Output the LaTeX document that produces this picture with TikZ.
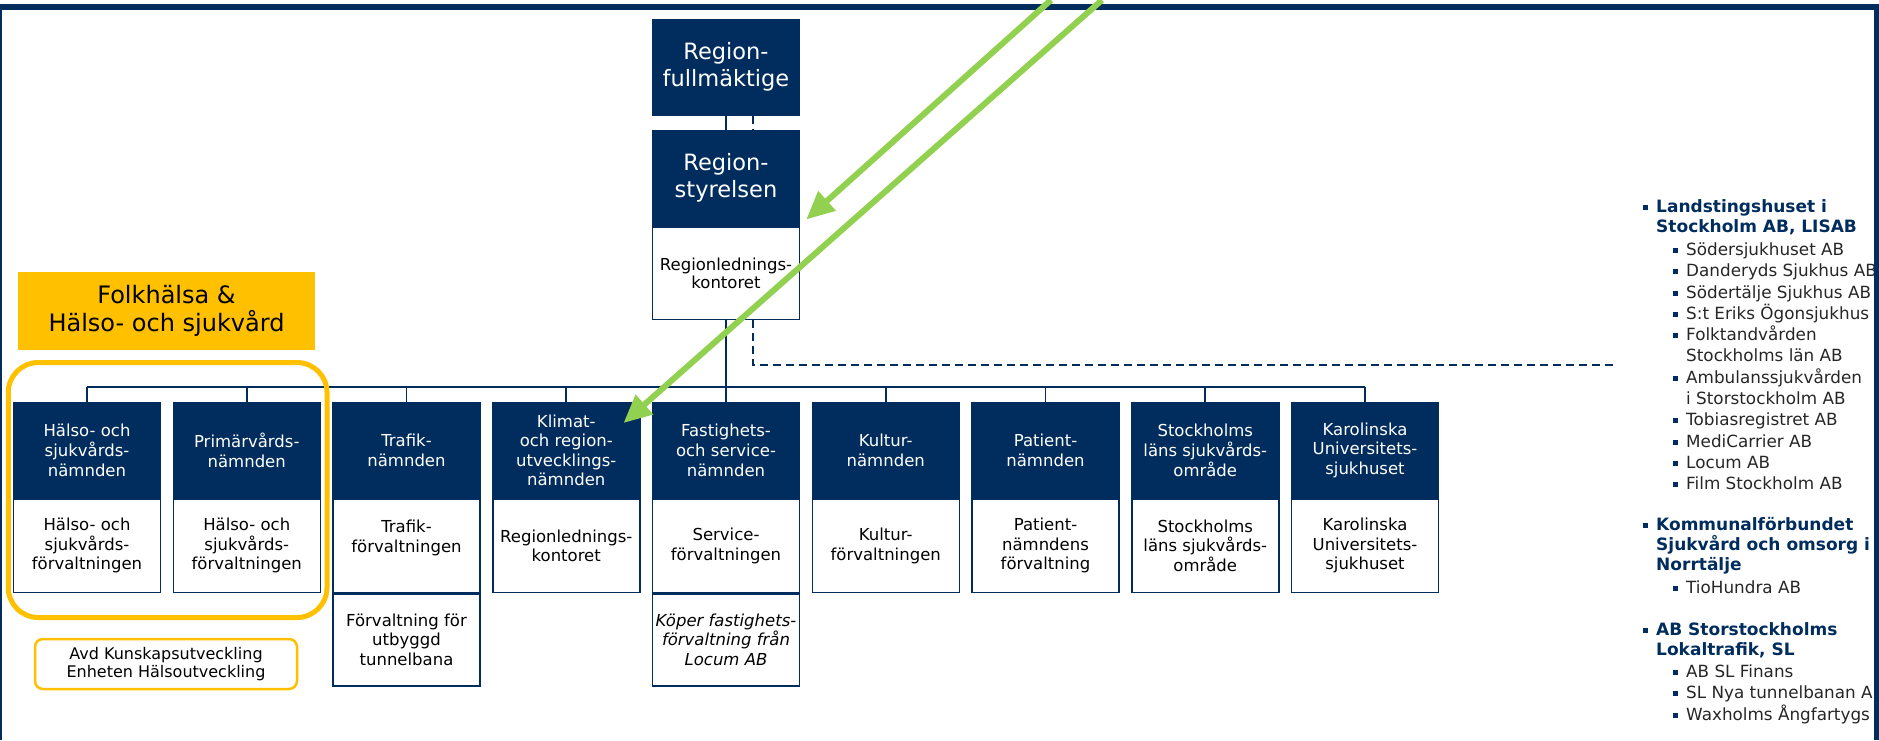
\documentclass[tikz,border=0pt]{standalone}
\usepackage{fontspec}
\setmainfont{DejaVu Sans}
\usepackage{tikz}
\usetikzlibrary{arrows.meta}
\usetikzlibrary{positioning}
\definecolor{navy}{RGB}{0,45,93}
\definecolor{sllgreen}{RGB}{146,208,80}
\definecolor{sllyellow}{RGB}{255,192,0}
\tikzset{
    orgbox/.style={draw=navy, line width=1.5pt, minimum width=147pt, inner sep=0pt, align=center},
    bighead/.style={orgbox, fill=navy, text=white, minimum height=95pt, font=\fontsize{22.5}{27}\selectfont},
    head/.style={orgbox, fill=navy, text=white, minimum height=95pt, font=\fontsize{16.5}{19.6}\selectfont},
    body/.style={orgbox, fill=white, text=black, minimum height=93pt, font=\fontsize{16.5}{19.6}\selectfont},
    conn/.style={draw=navy, line width=1.6pt},
    dashconn/.style={draw=navy, line width=1.8pt, dash pattern=on 8pt off 5pt},
    greenarrow/.style={draw=sllgreen, line width=6pt, -{Triangle[length=28pt,width=25pt]}},
    areabox/.style={fill=sllyellow, minimum width=297pt, minimum height=78pt, inner sep=0pt, align=center, font=\fontsize{24}{28.3}\selectfont},
    unitbox/.style={draw=sllyellow, line width=2.5pt, rounded corners=8pt, fill=white, minimum width=262pt, minimum height=50pt, inner sep=0pt, align=center, font=\fontsize{16}{18.3}\selectfont},
    ring/.style={draw=sllyellow, line width=5pt, rounded corners=30pt},
    bolaghead/.style={anchor=base west, inner sep=0pt, text=navy, font=\fontsize{17}{20}\selectfont\bfseries},
    bolagitem/.style={anchor=base west, inner sep=0pt, text=black!85, font=\fontsize{16.8}{21}\selectfont}
}
\newcommand{\sqb}{\makebox[13pt][l]{\textcolor{navy}{\rule[2.5pt]{4.5pt}{4.5pt}}}}
\newcommand{\nob}{\hspace*{13pt}}

\begin{document}
\begin{tikzpicture}[x=1pt,y=-1pt]
    \useasboundingbox (0,0) rectangle (1879,740);
    \clip (0,0) rectangle (1879,740);
    % top of the organisation
    \node[bighead, anchor=north] at (726,19) (rf) {Region-\\fullmäktige};
    \node[bighead, anchor=north] at (726,130) (rsh) {Region-\\styrelsen};
    \node[body, minimum height=92pt, font=\fontsize{16.5}{18.3}\selectfont, below=0pt of rsh] (rsb) {Regionlednings-\\kontoret};
    % boards and their administrations
    \foreach \hd/\bd [count=\i from 0] in {
        {Hälso- och\\sjukvårds-\\nämnden}/{Hälso- och\\sjukvårds-\\förvaltningen},
        {Primärvårds-\\nämnden}/{Hälso- och\\sjukvårds-\\förvaltningen},
        {Trafik-\\nämnden}/{Trafik-\\förvaltningen\\\mbox{}},
        {Klimat-\\och region-\\utvecklings-\\nämnden}/{Regionlednings-\\kontoret},
        {Fastighets-\\och service-\\nämnden}/{Service-\\förvaltningen},
        {Kultur-\\nämnden}/{Kultur-\\förvaltningen},
        {Patient-\\nämnden}/{Patient-\\nämndens\\förvaltning},
        {Stockholms\\läns sjukvårds-\\område}/{Stockholms\\läns sjukvårds-\\område},
        {Karolinska\\Universitets-\\sjukhuset}/{Karolinska\\Universitets-\\sjukhuset}}{
        \node[head, anchor=north] at (87+159.75*\i,402) (h\i) {\hd};
        \node[body, below=0pt of h\i] (b\i) {\bd};
    }
    \node[body, minimum height=92pt, below=0pt of b2] (b2x) {Förvaltning för\\utbyggd\\tunnelbana};
    \node[body, minimum height=92pt, below=0pt of b4] (b4x) {\textit{Köper fastighets-}\\\textit{förvaltning från}\\\textit{Locum AB}};
    % connectors
    \coordinate (bus) at (0,387);
    \coordinate (dashend) at (1617,365);
    \draw[conn] (rf.south) -- (rsh.north);
    \draw[dashconn] ([xshift=27pt]rf.south) -- ([xshift=27pt]rsh.north);
    \draw[conn] (rsb.south) -- (rsb.south |- bus);
    \draw[dashconn] ([xshift=27pt]rsb.south) |- (dashend);
    \draw[conn] (h0.north |- bus) -- (h8.north |- bus);
    \foreach \i in {0,...,8}
        \draw[conn] (h\i.north) -- (h\i.north |- bus);
    % public health area
    \node[areabox] at (166.5,311) (folk) {Folkhälsa \&\\Hälso- och sjukvård};
    \draw[ring] ([shift={(-4.5,-39.5)}]h0.north west) rectangle ([shift={(6,24.5)}]b1.south east);
    \node[unitbox] at (166,664) (avd) {Avd Kunskapsutveckling\\Enheten Hälsoutveckling};
    % companies
    \begin{scope}
        \clip (1600,150) rectangle (1873,740);
        \foreach \yy/\txt [count=\k] in {212/{\sqb Landstingshuset i}, 232/{\nob Stockholm AB, LISAB},
            530/{\sqb Kommunalförbundet}, 550/{\nob Sjukvård och omsorg i}, 570/{\nob Norrtälje},
            635/{\sqb AB Storstockholms}, 655/{\nob Lokaltrafik, SL}}
            \node[bolaghead] at (1643,\yy) (bh\k) {\txt};
        \foreach \yy/\txt [count=\k] in {255/{\sqb Södersjukhuset AB}, 276/{\sqb Danderyds Sjukhus AB},
            298/{\sqb Södertälje Sjukhus AB}, 319/{\sqb S:t Eriks Ögonsjukhus}, 340/{\sqb Folktandvården},
            361/{\nob Stockholms län AB}, 383/{\sqb Ambulanssjukvården}, 404/{\nob i Storstockholm AB},
            425/{\sqb Tobiasregistret AB}, 447/{\sqb MediCarrier AB}, 468/{\sqb Locum AB},
            489/{\sqb Film Stockholm AB}, 593/{\sqb TioHundra AB}, 677/{\sqb AB SL Finans},
            698/{\sqb SL Nya tunnelbanan AB}, 720/{\sqb Waxholms Ångfartygs}}
            \node[bolagitem] at (1673,\yy) (bi\k) {\txt};
    \end{scope}
    % frame
    \draw[navy, line width=6pt] (0,7) -- (1879,7);
    \draw[navy, line width=2pt] (1,7) -- (1,740);
    \draw[navy, line width=5pt] (1876,7) -- (1876,740);
    % green pointers
    \coordinate (g1) at (1051,0);
    \coordinate (g2) at (1102,0);
    \draw[greenarrow] (g1) -- ([xshift=6pt,yshift=7pt]rsh.south east);
    \draw[greenarrow] (g2) -- ([xshift=-17pt,yshift=-21pt]h3.north east);
\end{tikzpicture}
\end{document}
